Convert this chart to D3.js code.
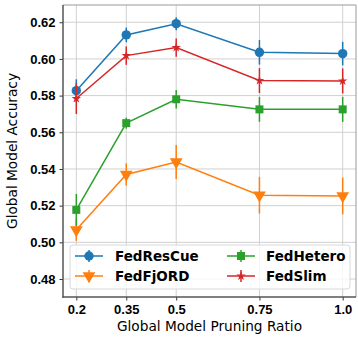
<!DOCTYPE html>
<html>
  <head>
    <meta charset="utf-8">
    <title>Global model accuracy vs pruning ratio</title>
    <script src="https://d3js.org/d3.v7.min.js"></script>
    <style>
      body { margin: 0; background: #fff; }
      svg { display: block; font-family: "DejaVu Sans", sans-serif; }
      .tick text { font-weight: bold; font-size: 13px; fill: #000; }
      .grid line { stroke: #d0d0d0; stroke-width: 1; }
    </style>
  </head>
  <body>
    <svg id="chart" width="358" height="339"></svg>
    <script>
      // data
      var ratios = [0.2, 0.35, 0.5, 0.75, 1.0];
      var xTicks = ["0.2", "0.35", "0.5", "0.75", "1.0"];
      var yTicks = [0.48, 0.50, 0.52, 0.54, 0.56, 0.58, 0.60, 0.62];
      var names = ["FedResCue", "FedFjORD", "FedHetero", "FedSlim"];
      var fedResCue = [0.5827, 0.6131, 0.6192, 0.6036, 0.6029];
      var fedResCueErr = [0.0062, 0.0040, 0.0035, 0.0067, 0.0064];
      var fedFjORD = [0.5068, 0.5370, 0.5438, 0.5257, 0.5253];
      var fedFjORDErr = [0.0060, 0.0060, 0.0093, 0.0100, 0.0100];
      var fedHetero = [0.5177, 0.5650, 0.5780, 0.5725, 0.5725];
      var fedHeteroErr = [0.0087, 0.0030, 0.0050, 0.0068, 0.0068];
      var fedSlim = [0.5784, 0.6018, 0.6062, 0.5882, 0.5880];
      var fedSlimErr = [0.0084, 0.0050, 0.0050, 0.0068, 0.0068];

      var series = [
        { name: names[0], values: fedResCue, err: fedResCueErr, color: "#1f77b4", marker: d3.symbolCircle, size: 70 },
        { name: names[1], values: fedFjORD, err: fedFjORDErr, color: "#ff7f0e", marker: "tri", size: 70 },
        { name: names[2], values: fedHetero, err: fedHeteroErr, color: "#2ca02c", marker: d3.symbolSquare, size: 64 },
        { name: names[3], values: fedSlim, err: fedSlimErr, color: "#d62728", marker: d3.symbolStar, size: 28 }
      ];

      var pLeft = 63, pRight = 356, pTop = 5, pBottom = 297;
      var svg = d3.select("#chart");

      var x = d3.scaleLinear().domain([0.16, 1.04]).range([pLeft, pRight]);
      var y = d3.scaleLinear().domain([0.4702, 0.6294]).range([pBottom, pTop]);

      // grid
      var grid = svg.append("g").attr("class", "grid");
      grid.selectAll("line.v").data(ratios).enter().append("line").attr("class", "v")
        .attr("x1", function(d) { return x(d); }).attr("x2", function(d) { return x(d); })
        .attr("y1", pTop).attr("y2", pBottom);
      grid.selectAll("line.h").data(yTicks).enter().append("line").attr("class", "h")
        .attr("x1", pLeft).attr("x2", pRight)
        .attr("y1", function(d) { return y(d); }).attr("y2", function(d) { return y(d); });

      // axes
      var xAxis = d3.axisBottom(x).tickValues(ratios)
        .tickFormat(function(d, i) { return xTicks[i]; })
        .tickSize(3.5).tickPadding(4);
      var yAxis = d3.axisLeft(y).tickValues(yTicks)
        .tickFormat(d3.format(".2f"))
        .tickSize(3.5).tickPadding(4);
      var gx = svg.append("g").attr("transform", "translate(0," + pBottom + ")").call(xAxis);
      var gy = svg.append("g").attr("transform", "translate(" + pLeft + ",0)").call(yAxis);
      gx.select(".domain").remove();
      gy.select(".domain").remove();
      svg.selectAll(".tick line").attr("stroke", "#333").attr("stroke-width", 1);

      // frame
      svg.append("line").attr("x1", pLeft).attr("x2", pRight).attr("y1", pTop).attr("y2", pTop)
        .attr("stroke", "#999").attr("stroke-width", 1);
      svg.append("line").attr("x1", pRight).attr("x2", pRight).attr("y1", pTop).attr("y2", pBottom)
        .attr("stroke", "#999").attr("stroke-width", 1);
      svg.append("line").attr("x1", pLeft).attr("x2", pLeft).attr("y1", pTop).attr("y2", pBottom + 0.75)
        .attr("stroke", "#555").attr("stroke-width", 1.5);
      svg.append("line").attr("x1", pLeft - 0.75).attr("x2", pRight).attr("y1", pBottom).attr("y2", pBottom)
        .attr("stroke", "#555").attr("stroke-width", 1.5);

      function markerPath(s) {
        if (s.marker === "tri") {
          return d3.symbol().type(d3.symbolTriangle).size(s.size)();
        }
        return d3.symbol().type(s.marker).size(s.size)();
      }
      function markerTransform(s, px, py) {
        // flip the triangle so it points down
        return "translate(" + px + "," + py + ")" + (s.marker === "tri" ? " rotate(180)" : "");
      }

      var line = d3.line()
        .x(function(d, i) { return x(ratios[i]); })
        .y(function(d) { return y(d); });

      series.forEach(function(s) {
        var g = svg.append("g");
        g.append("path").attr("d", line(s.values))
          .attr("fill", "none").attr("stroke", s.color).attr("stroke-width", 1.5);
        g.selectAll("line.err").data(s.values).enter().append("line")
          .attr("x1", function(d, i) { return x(ratios[i]); })
          .attr("x2", function(d, i) { return x(ratios[i]); })
          .attr("y1", function(d, i) { return y(d - s.err[i]); })
          .attr("y2", function(d, i) { return y(d + s.err[i]); })
          .attr("stroke", s.color).attr("stroke-width", 1.5);
        g.selectAll("path.m").data(s.values).enter().append("path")
          .attr("d", markerPath(s))
          .attr("transform", function(d, i) { return markerTransform(s, x(ratios[i]), y(d)); })
          .attr("fill", s.color);
      });

      // legend
      var lg = svg.append("g");
      lg.append("rect").attr("x", 70).attr("y", 245).attr("width", 280).attr("height", 44)
        .attr("rx", 3).attr("fill", "#fff").attr("fill-opacity", 0.8)
        .attr("stroke", "#d8d8d8").attr("stroke-width", 1);
      var cols = [[75, 115], [227, 266]];
      var rows = [256, 276];
      series.forEach(function(s, i) {
        var c = cols[Math.floor(i / 2)], r = rows[i % 2];
        var mid = c[0] + 14;
        lg.append("line").attr("x1", c[0]).attr("x2", c[0] + 28).attr("y1", r).attr("y2", r)
          .attr("stroke", s.color).attr("stroke-width", 1.5);
        lg.append("line").attr("x1", mid).attr("x2", mid).attr("y1", r - 6).attr("y2", r + 6)
          .attr("stroke", s.color).attr("stroke-width", 1.5);
        lg.append("path").attr("d", markerPath(s))
          .attr("transform", markerTransform(s, mid, r)).attr("fill", s.color);
        lg.append("text").attr("x", c[1]).attr("y", r + 5)
          .attr("font-size", 13.5).attr("font-weight", "bold").text(s.name);
      });

      // axis labels
      svg.append("text").attr("x", (pLeft + pRight) / 2).attr("y", 331)
        .attr("text-anchor", "middle").attr("font-size", 13.7).text("Global Model Pruning Ratio");
      svg.append("text").attr("transform", "translate(17," + ((pTop + pBottom) / 2) + ") rotate(-90)")
        .attr("text-anchor", "middle").attr("font-size", 13.7).text("Global Model Accuracy");
    </script>
  </body>
</html>
